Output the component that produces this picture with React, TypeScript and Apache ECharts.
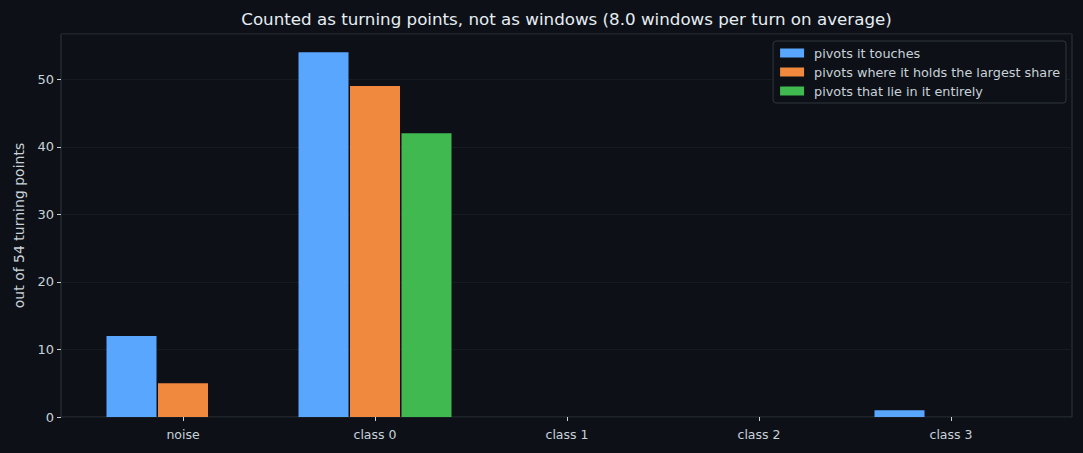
import React, { useEffect, useRef } from "react";
import * as echarts from "echarts";

const categories = ["noise", "class 0", "class 1", "class 2", "class 3"];
const touches = [12, 54, 0, 0, 1];
const largestShare = [5, 49, 0, 0, 0];
const entirely = [0, 42, 0, 0, 0];
const seriesNames = [
  "pivots it touches",
  "pivots where it holds the largest share",
  "pivots that lie in it entirely",
];
const colors = ["#58a6ff", "#f0883e", "#3fb950"];

const FONT = "DejaVu Sans";
const BG = "#0d1117";
const FRAME = "#30363d";
const TEXT = "#c9d1d9";

const App: React.FC = () => {
  const chartRef = useRef<HTMLDivElement>(null);

  useEffect(() => {
    document.body.style.margin = "0";
    if (!chartRef.current) return;
    const chart = echarts.init(chartRef.current, undefined, { renderer: "svg" });

    const yCommon = { type: "value", min: 0, max: 56.7, interval: 10 };
    const values = [touches, largestShare, entirely];

    chart.setOption({
      animation: false,
      backgroundColor: BG,
      textStyle: { fontFamily: FONT },
      graphic: [
        {
          type: "text",
          x: 566.5,
          y: 19,
          style: {
            text: "Counted as turning points, not as windows (8.0 windows per turn on average)",
            fill: "#e6edf3",
            font: `16.7px "${FONT}"`,
            align: "center",
            verticalAlign: "middle",
          },
        },
      ],
      grid: [
        { left: 61, right: 11, top: 34, bottom: 36, show: true, borderColor: FRAME, borderWidth: 1 },
        { left: 87, right: 36, top: 34, bottom: 36 },
      ],
      xAxis: [
        { type: "value", gridIndex: 0, show: false, min: 0, max: 1 },
        {
          type: "category",
          gridIndex: 1,
          data: categories,
          axisLine: { show: false },
          axisTick: { show: true, alignWithLabel: true, length: 4, lineStyle: { color: TEXT } },
          axisLabel: { color: TEXT, fontSize: 12.5, margin: 11, fontFamily: FONT },
          splitLine: { show: false },
        },
      ],
      yAxis: [
        {
          ...yCommon,
          gridIndex: 0,
          name: "out of 54 turning points",
          nameLocation: "middle",
          nameGap: 35,
          nameTextStyle: { color: TEXT, fontSize: 14, fontFamily: FONT },
          axisLine: { show: false },
          axisTick: { show: true, length: 4, lineStyle: { color: TEXT } },
          axisLabel: { color: TEXT, fontSize: 13, margin: 7, fontFamily: FONT, showMaxLabel: false },
          splitLine: { show: true, lineStyle: { color: "#161b22", width: 1 } },
        },
        { ...yCommon, gridIndex: 1, show: false, splitLine: { show: false } },
      ],
      legend: {
        orient: "vertical",
        right: 17,
        top: 41,
        backgroundColor: BG,
        borderColor: FRAME,
        borderWidth: 1,
        borderRadius: 3,
        padding: [5, 6, 5, 7],
        itemWidth: 24,
        itemHeight: 9,
        itemGap: 5,
        icon: "rect",
        textStyle: { color: TEXT, fontSize: 12.8, lineHeight: 14, fontFamily: FONT, padding: [0, 0, 0, 5] },
        data: seriesNames,
      },
      series: seriesNames.map((name, i) => ({
        name,
        type: "bar",
        xAxisIndex: 1,
        yAxisIndex: 1,
        data: values[i],
        barWidth: 50,
        barGap: "3%",
        itemStyle: { color: colors[i] },
      })),
    });

    return () => {
      chart.dispose();
    };
  }, []);

  return <div ref={chartRef} style={{ width: "1083px", height: "453px" }} />;
};

export default App;
